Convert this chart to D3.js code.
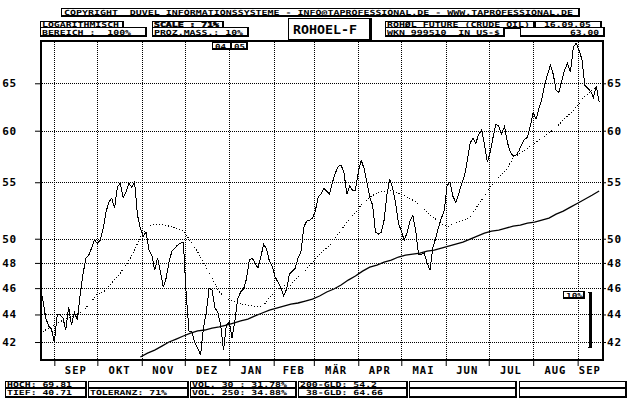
<!DOCTYPE html>
<html lang="de">
<head>
  <meta charset="UTF-8">
  <title>ROHOEL-F</title>
  <style>
    body { margin: 0; background: #fff; }
    svg { display: block; }
    text { font-family: 'DejaVu Sans Mono', monospace; fill: #000; white-space: pre; }
    .small { font-size: 7px; font-weight: bold; }
    .heavy { stroke: #000; stroke-width: 0.5px; }
    .axis text { font-size: 11px; font-weight: bold; letter-spacing: 0.8px; }
    .month { font-size: 10.5px; font-weight: bold; letter-spacing: 1px; }
    .title { font-size: 11.5px; font-weight: bold; }
  </style>
  <script src="https://d3js.org/d3.v7.min.js"></script>
</head>
<body>

<script>
  // time frame: closes every 2 days, averages every 5 days, both from startDate
  const startDate = new Date(2004, 7, 22);
  const endDate = new Date(2005, 8, 18);
  const closeStepDays = 2;
  const avgStepDays = 5;

  // crude oil future, close (US-$)
  const closes = [
    46.0, 45.08, 43.74, 43.15, 42.93, 42.0, 43.96, 43.96, 43.74, 42.86,
    44.55, 43.22, 44.18, 43.59, 45.46, 47.10, 48.39, 48.64, 49.22, 49.88,
    49.63, 49.88, 50.82, 52.29, 53.18, 53.54, 52.65, 54.55, 54.91, 53.63,
    54.09, 54.91, 54.55, 55.0, 52.03, 50.90, 50.22, 50.56, 49.05, 48.64,
    47.42, 48.39, 47.26, 46.08, 46.79, 48.07, 48.97, 49.22, 49.47, 49.63,
    49.71, 45.46, 42.72, 42.72, 41.93, 41.57, 41.09, 43.0, 44.18, 46.01,
    45.85, 44.48, 44.18, 43.22, 41.43, 43.22, 43.44, 42.28, 43.59, 45.23,
    45.70, 45.93, 46.71, 48.23, 48.39, 47.99, 47.58, 48.48, 49.55, 49.13,
    48.15, 47.74, 46.87, 46.47, 46.01, 45.39, 45.93, 47.10, 47.34, 47.58,
    48.39, 48.89, 50.99, 51.50, 51.59, 51.77, 52.38, 53.63, 53.91, 54.45,
    54.18, 53.91, 55.0, 55.85, 56.51, 56.61, 55.94, 53.91, 54.64, 54.27,
    54.27, 55.94, 57.09, 56.32, 55.0, 53.63, 52.92, 50.56, 50.39, 50.56,
    51.59, 53.91, 55.28, 54.45, 53.09, 51.33, 50.65, 49.88, 50.48, 51.50,
    52.03, 50.73, 48.72, 48.72, 48.80, 47.99, 47.42, 49.22, 50.05, 50.99,
    51.77, 52.47, 54.73, 55.0, 53.72, 53.18, 53.91, 54.82, 55.57, 56.99,
    58.75, 59.24, 58.75, 59.65, 60.05, 58.65, 56.90, 57.87, 59.34, 60.66,
    60.46, 59.65, 60.46, 58.84, 57.87, 57.48, 57.58, 57.96, 58.65, 59.14,
    59.34, 60.46, 61.90, 61.17, 62.32, 63.27, 64.79, 66.0, 67.0, 66.0,
    64.24, 64.02, 65.33, 66.55, 67.23, 66.22, 69.07, 69.54, 68.72, 67.68,
    64.79, 64.46, 64.13, 63.48, 64.68, 63.0
  ];

  // 38-day average (dotted)
  const avg38 = [
    42.64, 42.93, 43.22, 43.52, 43.74, 43.96, 44.26, 44.86, 45.54, 45.77,
    46.40, 47.03, 47.83, 48.80, 50.14, 50.99, 51.25, 51.25, 51.07, 50.90,
    50.65, 49.80, 48.89, 47.83, 46.79, 45.70, 45.23, 45.01, 44.78, 44.71,
    44.56, 44.56, 45.23, 45.85, 46.16, 46.24, 46.87, 47.42, 48.07, 48.72,
    49.22, 49.88, 50.73, 51.59, 52.29, 53.09, 53.63, 54.0, 54.18, 54.27,
    54.0, 53.72, 53.36, 52.92, 52.29, 51.77, 51.25, 51.07, 51.33, 51.59,
    51.85, 52.83, 53.72, 54.73, 55.47, 56.13, 57.28, 57.77, 58.26, 58.75,
    59.24, 59.75, 60.36, 61.07, 61.79, 62.63, 63.59, 64.24, 64.66
  ];

  // 200-day average (solid), starts in November
  const avg200 = [
    null, null, null, null, null, null, null, null, null, null,
    null, null, null, null, 40.95, 41.22, 41.43, 41.71, 42.0, 42.21,
    42.43, 42.64, 42.79, 42.86, 43.0, 43.08, 43.22, 43.37, 43.52, 43.66,
    43.89, 44.11, 44.33, 44.48, 44.63, 44.78, 44.86, 45.01, 45.16, 45.39,
    45.70, 45.93, 46.24, 46.63, 46.95, 47.34, 47.66, 47.83, 48.07, 48.23,
    48.48, 48.64, 48.72, 48.80, 48.97, 49.05, 49.22, 49.38, 49.55, 49.71,
    49.97, 50.22, 50.48, 50.65, 50.73, 50.90, 51.07, 51.16, 51.33, 51.42,
    51.59, 51.77, 52.12, 52.38, 52.74, 53.09, 53.45, 53.81, 54.2
  ];

  const priceTicks = [42, 44, 46, 48, 50, 55, 60, 65];
  const monthLabels = ["SEP", "OKT", "NOV", "DEZ", "JAN", "FEB", "MÄR", "APR", "MAI", "JUN", "JUL", "AUG", "SEP"];
  const low = 40.71, high = 69.81;
  const lastClose = 63.00;
  const scaleBarBase = 41.57;   // 10% bar, bottom value

  const W = 640, H = 400;
  const pLeft = 40, pRight = 602, pTop = 40, pBottom = 360;

  const svg = d3.select("body").append("svg")
    .attr("width", W)
    .attr("height", H)
    .style("background", "#fff");

  const x = d3.scaleTime().domain([startDate, endDate]).range([pLeft, pRight]);
  const y = d3.scaleLog().domain([low, high]).range([pBottom + 0.5, pTop + 1]);

  const closeDate = i => d3.timeDay.offset(startDate, i * closeStepDays);
  const avgDate = i => d3.timeDay.offset(startDate, i * avgStepDays);
  const months = d3.timeMonth.range(new Date(2004, 8, 1), new Date(2005, 8, 2));
  const px = v => Math.round(v) + 0.5;

  // dotted grid
  const grid = svg.append("g")
    .attr("stroke", "#000")
    .attr("stroke-dasharray", "1,1")
    .attr("shape-rendering", "crispEdges");

  grid.selectAll(".gy").data(priceTicks).join("line")
    .attr("class", "gy")
    .attr("x1", pLeft).attr("x2", pRight)
    .attr("y1", d => px(y(d))).attr("y2", d => px(y(d)));

  grid.selectAll(".gx").data(months).join("line")
    .attr("class", "gx")
    .attr("x1", d => px(x(d))).attr("x2", d => px(x(d)))
    .attr("y1", pTop).attr("y2", pBottom);

  // axes
  svg.append("g")
    .attr("class", "axis")
    .attr("transform", `translate(${pLeft},0)`)
    .call(d3.axisLeft(y).tickValues(priceTicks).tickFormat(d3.format("d")).tickSize(5).tickPadding(18))
    .call(g => g.select(".domain").remove());

  svg.append("g")
    .attr("class", "axis")
    .attr("transform", `translate(${pRight},0)`)
    .call(d3.axisRight(y).tickValues(priceTicks).tickFormat(d3.format("d")).tickSize(4).tickPadding(1))
    .call(g => g.select(".domain").remove());

  svg.append("g")
    .attr("transform", `translate(0,${pBottom})`)
    .call(d3.axisBottom(x).tickValues(months).tickSize(6).tickFormat(""))
    .call(g => g.select(".domain").remove());

  svg.append("g").selectAll("text").data(months).join("text")
    .attr("class", "month")
    .attr("x", (d, i) => (x(d) + x(i < months.length - 1 ? months[i + 1] : endDate)) / 2)
    .attr("y", 374)
    .attr("text-anchor", "middle")
    .text((d, i) => monthLabels[i]);

  // lines
  const closeLine = d3.line().x((d, i) => x(closeDate(i))).y(d => y(d));
  const avgLine = d3.line().defined(d => d != null).x((d, i) => x(avgDate(i))).y(d => y(d));

  svg.append("path")
    .datum(avg38)
    .attr("d", avgLine)
    .attr("fill", "none")
    .attr("stroke", "#000")
    .attr("stroke-width", 1)
    .attr("stroke-dasharray", "1,2")
    .attr("shape-rendering", "crispEdges");

  svg.append("path")
    .datum(avg200)
    .attr("d", avgLine)
    .attr("fill", "none")
    .attr("stroke", "#000")
    .attr("stroke-width", 1.3);

  svg.append("path")
    .datum(closes)
    .attr("d", closeLine)
    .attr("fill", "none")
    .attr("stroke", "#000")
    .attr("stroke-width", 1)
    .attr("shape-rendering", "crispEdges");

  // frame
  const frame = svg.append("g").attr("fill", "#000").attr("shape-rendering", "crispEdges");
  frame.append("rect").attr("x", pLeft).attr("y", pTop).attr("width", 2).attr("height", pBottom - pTop + 1);
  frame.append("rect").attr("x", pRight).attr("y", pTop).attr("width", 2).attr("height", pBottom - pTop + 1);
  frame.append("rect").attr("x", pLeft).attr("y", pTop).attr("width", pRight - pLeft + 2).attr("height", 2);
  frame.append("rect").attr("x", pLeft).attr("y", pBottom - 1).attr("width", pRight - pLeft + 2).attr("height", 2);

  // boxes with a heavier right/bottom edge
  function box(x0, y0, w, h, shadow = 1) {
    svg.append("rect").attr("x", x0).attr("y", y0).attr("width", w).attr("height", h)
      .attr("fill", "#000").attr("shape-rendering", "crispEdges");
    svg.append("rect").attr("x", x0 + 1).attr("y", y0 + 1).attr("width", w - 2 - shadow).attr("height", h - 2 - shadow)
      .attr("fill", "#fff").attr("shape-rendering", "crispEdges");
  }

  function label(str, x0, base, anchor = "start", heavy = false) {
    if (!str) return;
    svg.append("text")
      .attr("class", heavy ? "small heavy" : "small")
      .attr("x", x0).attr("y", base)
      .attr("text-anchor", anchor)
      .attr("textLength", str.length * 6 - 1)
      .attr("lengthAdjust", "spacingAndGlyphs")
      .text(str);
  }

  const header = [
    {x: 61, y: 8, w: 519, h: 9, text: "COPYRIGHT  DUVEL INFORMATIONSSYSTEME - INFO@TAPROFESSIONAL.DE - WWW.TAPROFESSIONAL.DE", tx: 64, ty: 14.5},
    {x: 40, y: 21, w: 84, h: 8, text: "LOGARITHMISCH", tx: 42, ty: 27},
    {x: 40, y: 27, w: 107, h: 10, text: "BEREICH :  100%", tx: 42, ty: 34.5},
    {x: 152, y: 21, w: 72, h: 8, text: "SCALE : 71%", tx: 154, ty: 27, heavy: true},
    {x: 152, y: 27, w: 97, h: 10, text: "PROZ.MASS.: 10%", tx: 154, ty: 34.5},
    {x: 385, y: 21, w: 150, h: 8, text: "ROHØL FUTURE (CRUDE OIL)", tx: 387, ty: 27},
    {x: 535, y: 21, w: 67, h: 8, text: "16.09.05", tx: 544, ty: 27},
    {x: 385, y: 27, w: 120, h: 10, text: "WKN 999510  IN US-$", tx: 387, ty: 34.5},
    {x: 520, y: 27, w: 85, h: 10, text: lastClose.toFixed(2), tx: 599, ty: 34.5, anchor: "end"}
  ];
  header.forEach(b => {
    box(b.x, b.y, b.w, b.h);
    label(b.text, b.tx, b.ty, b.anchor || "start", b.heavy);
  });

  // title box
  box(288, 18, 84, 24, 2);
  svg.append("text").attr("class", "title")
    .attr("x", 293).attr("y", 33.5)
    .attr("textLength", 64).attr("lengthAdjust", "spacingAndGlyphs")
    .text("ROHOEL-F");

  // year change marker
  const split = Math.round(x(new Date(2005, 0, 1))) + 2;
  box(split - 19, 42, 20, 8);
  box(split, 42, 17, 8);
  label("04", split - 16, 48.5);
  label("05", split + 3, 48.5);

  // 10% bar
  box(563, 291, 22, 8);
  label("10%", 566, 297.5);
  const barTop = Math.round(y(scaleBarBase * 1.1));
  const barBottom = Math.round(y(scaleBarBase));
  svg.append("rect").attr("x", 589).attr("y", barTop).attr("width", 3).attr("height", barBottom - barTop)
    .attr("fill", "#000").attr("shape-rendering", "crispEdges");
  svg.append("rect").attr("x", 588).attr("y", barTop).attr("width", 4).attr("height", 1).attr("fill", "#000");
  svg.append("rect").attr("x", 588).attr("y", barBottom - 1).attr("width", 4).attr("height", 1).attr("fill", "#000");

  // footer
  const footer = [
    {x: 5, w: 82, top: "HOCH: " + high.toFixed(2), bottom: "TIEF: " + low.toFixed(2)},
    {x: 88, w: 101, top: "", bottom: "TOLERANZ: 71%"},
    {x: 190, w: 107, top: "VOL. 30 : 31.78%", bottom: "VOL. 250: 34.88%"},
    {x: 298, w: 110, top: "200-GLD: 54.2", bottom: " 38-GLD: 64.66"},
    {x: 409, w: 108, top: "", bottom: ""},
    {x: 519, w: 108, top: "", bottom: ""}
  ];
  footer.forEach(c => {
    box(c.x, 381, c.w, 8);
    box(c.x, 388, c.w, 10);
    label(c.top, c.x + 2, 386.5);
    label(c.bottom, c.x + 2, 394.5);
  });
</script>

</body>
</html>
